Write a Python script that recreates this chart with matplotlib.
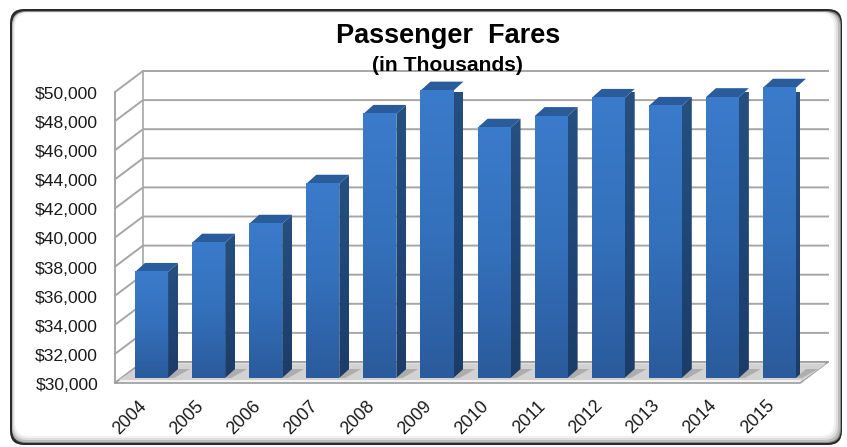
import numpy as np
import matplotlib
matplotlib.use("Agg")
import matplotlib.pyplot as plt
from matplotlib.patches import FancyBboxPatch, Polygon
from matplotlib.colors import LinearSegmentedColormap
from matplotlib.transforms import ScaledTranslation

plt.rcParams["font.family"] = ["Liberation Sans", "DejaVu Sans"]

years = ["2004", "2005", "2006", "2007", "2008", "2009",
         "2010", "2011", "2012", "2013", "2014", "2015"]
fares = [37290, 39300, 40600, 43350, 48150, 49750,
         47200, 48000, 49250, 48700, 49300, 49950]
y_ticks = list(range(30000, 50001, 2000))

W, H = 847, 447
fig = plt.figure(figsize=(W / 100, H / 100), dpi=100, facecolor="white")

# Rounded frame with a bevelled edge, laid out in pixels
bg = fig.add_axes([0, 0, 1, 1], zorder=0)
bg.set_xlim(0, W)
bg.set_ylim(H, 0)
bg.axis("off")
frame_layers = [(10, 9, 842, 445, "#2a2a2a"), (12, 11, 841, 443, "#8a8a8a"),
                (12, 12, 840, 442, "#bdbdbd"), (13, 12, 838, 440, "#dedede"),
                (14, 12, 836, 438, "#f1f1f1"), (15, 13, 834, 436, "#ffffff")]
for x0, y0, x1, y1, colour in frame_layers:
    bg.add_patch(FancyBboxPatch((x0 + 14, y0 + 14), x1 - x0 - 28, y1 - y0 - 28,
                                boxstyle="round,pad=14,rounding_size=14",
                                fc=colour, ec="none"))

# Front plane of the 3-D box; everything else is offset from it
left, right, top, bottom = 115, 800, 92, 383
ax = fig.add_axes([left / W, 1 - bottom / H, (right - left) / W, (bottom - top) / H], zorder=1)
ax.patch.set_alpha(0)
for s in ax.spines.values():
    s.set_visible(False)

n = len(years)
px_x = n / (right - left)
px_y = 20000 / (bottom - top)
wall_dx, wall_dy = 28 * px_x, 21 * px_y
bar_w = 33 * px_x
bar_dx, bar_dy = 10 * px_x, 9 * px_y
shift_x, shift_y = 8 * px_x, 5 * px_y
grid_c = "#a6a6a6"

# Walls: horizontal rules on the back, diagonals on the left side
ax.plot([wall_dx, wall_dx], [30000 + wall_dy, 50000 + wall_dy], color=grid_c, lw=1.2, clip_on=False, zorder=1)
ax.plot([0, 0], [30000, 50000], color=grid_c, lw=1.4, clip_on=False, zorder=1)
for v in y_ticks:
    ax.plot([0, wall_dx, n + wall_dx], [v, v + wall_dy, v + wall_dy],
            color=grid_c, lw=1.4, clip_on=False, zorder=1)

# Floor and its pale front lip
ax.add_patch(Polygon([(0, 30000), (n, 30000), (n + wall_dx, 30000 + wall_dy), (wall_dx, 30000 + wall_dy)],
                     closed=True, fc="#f2f2f2", ec="#9c9c9c", lw=1.2, clip_on=False, zorder=1.5))
ax.add_patch(Polygon([(3.5 * px_x, 30000 + 3 * px_y), (n + 3.5 * px_x, 30000 + 3 * px_y),
                      (n + wall_dx - 1.5 * px_x, 30000 + wall_dy - 1.5 * px_y), (wall_dx, 30000 + wall_dy - 1.5 * px_y)],
                     closed=True, fc="#d2d2d2", ec="none", clip_on=False, zorder=1.6))

front_cmap = LinearSegmentedColormap.from_list("front", ["#3b7bcb", "#3470bb", "#2a5b9c"])
side_cmap = LinearSegmentedColormap.from_list("side", ["#25507f", "#1f4676", "#1c3c68"])
ramp = np.linspace(0, 1, 128).reshape(-1, 1)

for i, v in enumerate(fares):
    x0 = i + 0.5 + shift_x - bar_w / 2
    x1 = x0 + bar_w
    y0, y1 = 30000 + shift_y, v + shift_y

    # Shadow the bar throws across the floor
    ax.add_patch(Polygon([(x1, y0), (x1 + bar_dx, y0 + bar_dy), (x1 + bar_dx + 12 * px_x, y0 + bar_dy),
                          (x1 + 6 * px_x, y0)],
                         closed=True, fc="#adadad", ec="none", clip_on=False, zorder=1.8))

    # Side face
    side = Polygon([(x1, y0), (x1 + bar_dx, y0 + bar_dy), (x1 + bar_dx, y1 + bar_dy), (x1, y1)],
                   closed=True, fc="none", ec="none", clip_on=False, zorder=2)
    ax.add_patch(side)
    im = ax.imshow(ramp, extent=(x1, x1 + bar_dx, y0, y1 + bar_dy), cmap=side_cmap, aspect="auto",
                   zorder=2, clip_on=True)
    im.set_clip_path(side)

    # Top face
    ax.add_patch(Polygon([(x0, y1), (x1, y1), (x1 + bar_dx, y1 + bar_dy), (x0 + bar_dx, y1 + bar_dy)],
                         closed=True, fc="#2a5b9b", ec="none", clip_on=False, zorder=2))

    # Front face with a vertical gradient
    ax.imshow(ramp, extent=(x0, x1, y0, y1), cmap=front_cmap, aspect="auto", zorder=3, clip_on=False)

ax.set_xlim(0, n)
ax.set_ylim(30000, 50000)

ax.set_yticks(y_ticks)
ax.set_yticklabels([f"${v:,}" for v in y_ticks], fontsize=12.6, color="#1a1a1a")
ax.tick_params(axis="y", length=0, pad=12.2)
ax.set_xticks(np.arange(n) + 0.5)
ax.set_xticklabels(years, fontsize=12.8, rotation=45, ha="right", va="top",
                   rotation_mode="anchor", color="#1a1a1a")
ax.tick_params(axis="x", length=0, pad=11)

# Nudge tick labels by a few pixels
nudge_x = ScaledTranslation(-6 / 100, 1 / 100, fig.dpi_scale_trans)
nudge_y = ScaledTranslation(0, -1 / 100, fig.dpi_scale_trans)
for lab in ax.get_xticklabels():
    lab.set_transform(lab.get_transform() + nudge_x)
for lab in ax.get_yticklabels():
    lab.set_transform(lab.get_transform() + nudge_y)

fig.text(448.5 / W, 1 - 43 / H, "Passenger  Fares", fontsize=19.5, fontweight="bold",
         ha="center", va="baseline", color="black", zorder=5)
fig.text(447.5 / W, 1 - 71 / H, "(in Thousands)", fontsize=15.2, fontweight="bold",
         ha="center", va="baseline", color="black", zorder=5)

fig.savefig("out.png", dpi=100)
